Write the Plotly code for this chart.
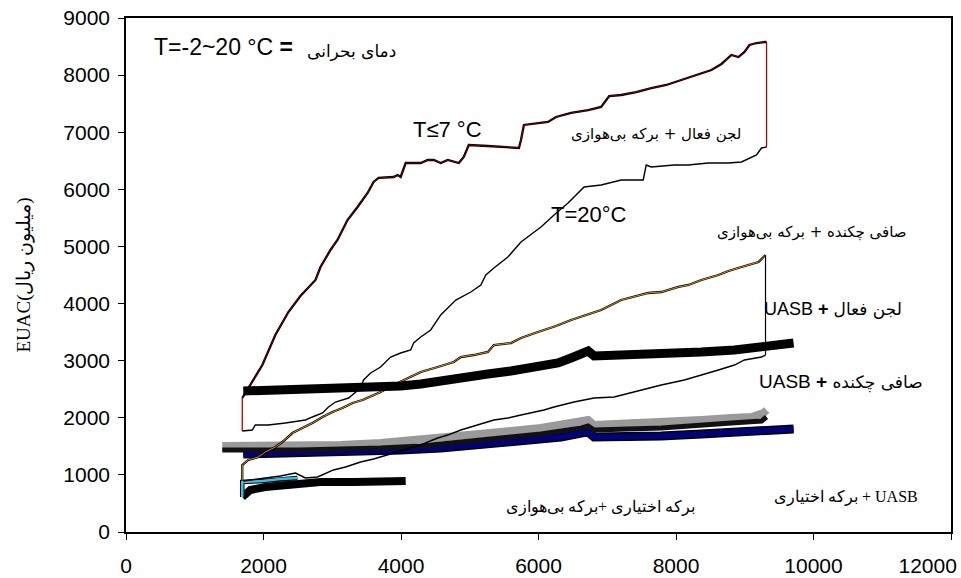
import plotly.graph_objects as go

# ---- data (x: capacity, y: EUAC million rials) ----
# Activated sludge + aerated lagoon, T<=7 C (upper envelope)
t7_x = [1691, 1808, 1983, 2172, 2362, 2537, 2756, 2829, 2974, 3076, 3222, 3368, 3514, 3601, 3674, 3893, 3951, 3995,
        4068, 4287, 4389, 4476, 4578, 4680, 4768, 4841, 4913, 4986, 5263, 5497, 5715, 5745, 5788, 6138, 6255, 6474,
        6722, 6911, 7028, 7203, 7421, 7640, 7859, 8077, 8296, 8515, 8661, 8806, 8908, 8996, 9069, 9171, 9288, 9317]
t7_y = [2346, 2574, 2924, 3449, 3852, 4132, 4413, 4640, 4938, 5113, 5463, 5691, 5936, 6129, 6199, 6216, 6251, 6216,
        6461, 6461, 6514, 6514, 6461, 6514, 6479, 6461, 6566, 6776, 6759, 6741, 6724, 6864, 7127, 7179, 7267, 7337,
        7389, 7442, 7634, 7652, 7704, 7774, 7827, 7915, 8002, 8090, 8195, 8352, 8317, 8405, 8527, 8562, 8580, 8580]
# Activated sludge + aerated lagoon, T=20 C (lower envelope, right to left)
t20_x = [9317, 9244, 9171, 9069, 8952, 8763, 8471, 8179, 7975, 7640, 7567, 7523, 7203, 6911, 6663, 6517, 6430, 6226,
         6036, 5745, 5555, 5351, 5234, 5161, 5016, 4797, 4578, 4432, 4287, 4184, 4141, 3995, 3849, 3703, 3558, 3455,
         3412, 3237, 3047, 2945, 2858, 2712, 2610, 2318, 2070, 1881, 1837, 1691]
t20_y = [6741, 6724, 6601, 6549, 6479, 6461, 6461, 6426, 6426, 6391, 6426, 6164, 6164, 6076, 6041, 5866, 5761, 5551,
         5341, 5078, 4815, 4623, 4500, 4325, 4202, 4062, 3800, 3537, 3414, 3309, 3187, 3134, 3064, 2889, 2784, 2662,
         2521, 2346, 2276, 2189, 2084, 2014, 1961, 1909, 1874, 1874, 1786, 1769]

# Trickling filter + anaerobic lagoon (upper, orange)
tf_up_x = [1691, 1691, 1779, 1925, 2027, 2172, 2275, 2420, 2566, 2712, 2858, 3003, 3149, 3295, 3441, 3703, 3893, 4141,
           4287, 4534, 4768, 4870, 5059, 5263, 5351, 5599, 5745, 5992, 6255, 6474, 6692, 6911, 7203, 7392, 7596, 7786,
           8034, 8180, 8369, 8617, 8763, 8952, 9200, 9302]
tf_up_y = [910, 1173, 1261, 1313, 1401, 1488, 1576, 1733, 1821, 1909, 2014, 2101, 2171, 2259, 2311, 2451, 2574, 2714,
           2802, 2889, 2977, 3064, 3099, 3152, 3274, 3309, 3397, 3502, 3607, 3712, 3800, 3887, 4062, 4115, 4185, 4202,
           4290, 4325, 4413, 4500, 4570, 4640, 4728, 4850]
# Trickling filter + anaerobic lagoon (lower, right to left)
tf_lo_x = [9302, 9244, 8996, 8850, 8617, 8369, 8121, 7786, 7392, 7100, 6809, 6517, 6226, 6080, 5745, 5555, 5351, 5118,
           4870, 4680, 4534, 4389, 4287, 3995, 3805, 3601, 3412, 3193, 3018, 2785, 2610, 2464, 2245, 1954, 1706]
tf_lo_y = [3099, 3064, 3012, 2924, 2837, 2749, 2662, 2574, 2451, 2364, 2346, 2276, 2189, 2136, 2049, 1996, 1961, 1874,
           1786, 1698, 1646, 1576, 1523, 1418, 1348, 1278, 1226, 1138, 1086, 963, 946, 1033, 980, 928, 893]

# UASB + activated sludge (thick black)
uasb_as_x = [1706, 2245, 2829, 3412, 3995, 4287, 4622, 4943, 5263, 5599, 5934, 6284, 6474, 6619, 6722, 6809, 7203,
             7786, 8369, 8850, 9244, 9492, 9710]
uasb_as_y = [2469, 2486, 2504, 2521, 2556, 2591, 2662, 2697, 2767, 2819, 2872, 2959, 3047, 3134, 3169, 3082, 3099,
             3099, 3152, 3187, 3239, 3274, 3309]

# UASB + trickling filter (gray band with black core)
uasb_tf_x = [1400, 1954, 2537, 3120, 3703, 4287, 4870, 5453, 6036, 6328, 6619, 6722, 6809, 7203, 7786, 8369, 8806,
             9098, 9273, 9317]
uasb_tf_y = [1506, 1506, 1506, 1523, 1558, 1611, 1681, 1751, 1821, 1874, 1926, 1961, 1874, 1891, 1926, 1961, 1996,
             2014, 2084, 2136]
uasb_tf2_x = [1400, 2537, 3703, 4287, 4870, 5453, 6036, 6619, 6722, 6809, 7786, 8806, 9244, 9317]
uasb_tf2_y = [1436, 1436, 1471, 1506, 1576, 1646, 1716, 1821, 1856, 1786, 1821, 1908, 1944, 2014]

# UASB + facultative lagoon (navy)
uasb_fl_x = [1706, 2537, 3412, 3995, 4578, 5118, 5599, 6036, 6328, 6619, 6722, 6809, 7348, 7786, 8369, 8806, 9288,
             9710]
uasb_fl_y = [1366, 1383, 1401, 1436, 1471, 1523, 1576, 1611, 1663, 1733, 1751, 1663, 1663, 1681, 1716, 1751, 1769,
             1804]

# Facultative lagoon + anaerobic lagoon (bottom)
fl_al_x = [1691, 1808, 2027, 2391, 2829, 3310, 3703, 4068]
fl_al_y = [613, 735, 788, 823, 876, 876, 893, 893]
fl_al_c_x = [1691, 1691, 1983, 2245, 2493]
fl_al_c_y = [613, 876, 893, 928, 946]

x_ticks = [0, 2000, 4000, 6000, 8000, 10000, 12000]
x_tick_labels = ["0", "2000", "4000", "6000", "8000", "10000", "12000" + "&nbsp;" * 8]
y_ticks = [0, 1000, 2000, 3000, 4000, 5000, 6000, 7000, 8000, 9000]
y_tick_labels = ["0", "1000", "2000", "3000", "4000", "5000", "6000", "7000", "8000", "9000"]

fig = go.Figure()


def line(x, y, color, width):
    fig.add_trace(go.Scatter(x=x, y=y, mode="lines", line=dict(color=color, width=width),
                             showlegend=False, hoverinfo="skip"))


# bottom cluster
line(fl_al_x, fl_al_y, "black", 8)
line(fl_al_c_x, fl_al_c_y, "black", 4.5)
line(fl_al_c_x, fl_al_c_y, "#2EC4F0", 2.5)

# navy band
line(uasb_fl_x, uasb_fl_y, "black", 9)
line(uasb_fl_x, uasb_fl_y, "#000080", 6)
# gray band
line(uasb_tf_x, uasb_tf_y, "#9A9A9A", 8)
line(uasb_tf2_x, uasb_tf2_y, "#111111", 5)

# trickling filter envelope
line(tf_lo_x, tf_lo_y, "black", 1.4)
line([tf_up_x[-1], tf_lo_x[0]], [tf_up_y[-1], tf_lo_y[0]], "black", 1.2)
line(tf_up_x, tf_up_y, "black", 2.3)
line(tf_up_x, tf_up_y, "#E8A020", 0.9)

# activated sludge envelope
line(t20_x, t20_y, "black", 1.4)
line([t7_x[-1], t20_x[0]], [t7_y[-1], t20_y[0]], "#B00000", 1.3)
line([t20_x[-1], t7_x[0]], [t20_y[-1], t7_y[0]], "#B00000", 1.3)
line(t7_x, t7_y, "black", 2.3)
line(t7_x, t7_y, "#7A0000", 0.9)

# UASB + activated sludge thick
line(uasb_as_x, uasb_as_y, "black", 9)

fa = "Liberation Sans, Arial, sans-serif"
fp = "DejaVu Sans, sans-serif"
fs = "Liberation Serif, Times New Roman, serif"


def ann(x, y, text, size, family, xanchor="left"):
    fig.add_annotation(x=x, y=y, text=text, showarrow=False, xanchor=xanchor, yanchor="middle",
                       font=dict(family=family, size=size, color="black"))


ann(379, 8490, "T=-2~20 °C <b>=</b>", 23, fa)
ann(2610, 8420, "دمای بحرانی", 17, fp)
ann(4141, 7039, "T≤7 °C", 22, fa)
ann(6153, 5568, "T=20°C", 22, fa)
ann(7713, 6969, "لجن فعال + برکه بی\u200cهوازی", 15, fp, "center")
ann(9973, 5253, "صافی چکنده + برکه بی\u200cهوازی", 15, fp, "center")
ann(9244, 3905, "UASB <b>+</b> <span style='font-family:DejaVu Sans;font-size:17px'>لجن فعال</span>", 18, fa)
ann(9171, 2627, "UASB <b>+</b> <span style='font-family:DejaVu Sans;font-size:17px'>صافی چکنده</span>", 19, fa)
ann(9390, 613, "برکه اختیاری + UASB", 16, fs)
ann(5497, 438, "برکه اختیاری +برکه بی\u200cهوازی", 16, fs)

axis_common = dict(showgrid=False, zeroline=False, showline=True, linecolor="black", mirror=True,
                   ticks="outside", tickcolor="black", ticklen=6, automargin=False,
                   ticklabeloverflow="allow",
                   tickfont=dict(family="Liberation Sans Narrow, Arial Narrow, Liberation Sans, sans-serif",
                                 size=21, color="black"))

fig.update_layout(
    width=961, height=578,
    margin=dict(l=126, r=10, t=18, b=46),
    paper_bgcolor="white", plot_bgcolor="white",
    xaxis=dict(range=[0, 12000], tickvals=x_ticks, ticktext=x_tick_labels, linewidth=2, ticklabelstandoff=8,
               **axis_common),
    yaxis=dict(range=[0, 9000], tickvals=y_ticks, ticktext=y_tick_labels, linewidth=1.5, ticklabelstandoff=4,
               title=dict(text="EUAC(میلیون ریال)", font=dict(family=fs, size=19, color="black"), standoff=28),
               **axis_common),
)

fig.write_html("out.html")
